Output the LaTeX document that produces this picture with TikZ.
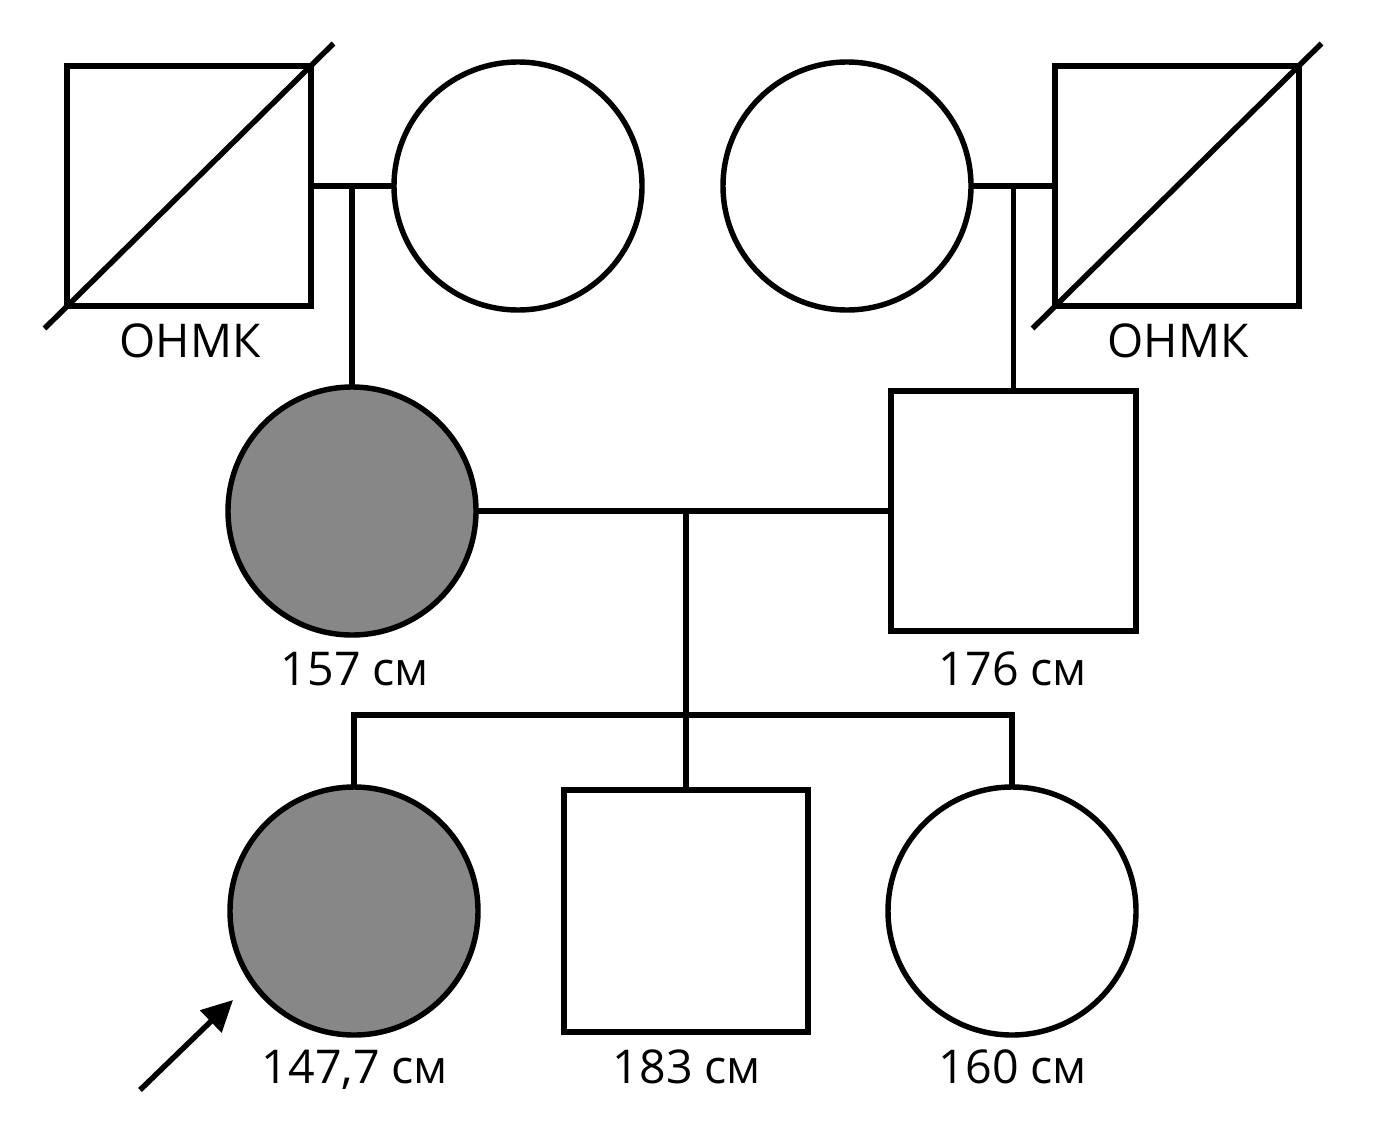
\documentclass[tikz,border=0pt]{standalone}
\usepackage{fontspec}
\setmainfont{Open Sans}
\usetikzlibrary{calc,arrows.meta}
\definecolor{affgray}{RGB}{135,135,135}

\tikzset{
	male/.style={draw, line width=3.1pt, minimum width=4.88cm, minimum height=4.8cm, inner sep=0pt, outer sep=0pt},
	female/.style={draw, circle, line width=3.1pt, minimum size=4.96cm, inner sep=0pt, outer sep=0pt},
	affected/.style={fill=affgray},
	tag/.style={font=\fontsize{26.5}{32}\selectfont, inner sep=0pt, anchor=base},
	link/.style={line width=3.1pt}
}

\begin{document}
\begin{tikzpicture}
					\useasboundingbox (0,0) rectangle (27.6,-22.46);

					% Generation I
					\node[male] (I1) at (3.78,-3.72) {};
					\node[female] (I2) at (10.36,-3.72) {};
					\node[female] (I3) at (16.94,-3.72) {};
					\node[male] (I4) at (23.54,-3.72) {};

					% deceased
					\draw[link] ($(I1.south west)+(-0.45,-0.45)$) -- ($(I1.north east)+(0.45,0.45)$);
					\draw[link] ($(I4.south west)+(-0.45,-0.45)$) -- ($(I4.north east)+(0.45,0.45)$);

					\node[tag] (t1) at (3.8,-7.14) {ОНМК};
					\node[tag] (t4) at (23.56,-7.14) {ОНМК};

					% Generation II
					\node[female, affected] (II1) at (7.04,-10.22) {};
					\node[male, minimum width=4.9cm] (II2) at (20.27,-10.22) {};
					\node[tag] (t5) at (7.1,-13.7) {157 см};
					\node[tag] (t6) at (20.26,-13.7) {176 см};

					\draw[link] (I1.east) -- (I2.west);
					\draw[link] (I3.east) -- (I4.west);
					\draw[link] (II1.north) -- (II1.north |- I1.east);
					\draw[link] (II2.north) -- (II2.north |- I4.west);

					% Generation III
					\node[female, affected] (III1) at (7.08,-18.22) {};
					\node[male, minimum height=4.84cm] (III2) at (13.72,-18.22) {};
					\node[female] (III3) at (20.24,-18.22) {};
					\node[tag] (t7) at (7.1,-21.66) {147,7 см};
					\node[tag] (t8) at (13.74,-21.66) {183 см};
					\node[tag] (t9) at (20.26,-21.66) {160 см};

					\draw[link] (II1.east) -- (II2.west);
					\coordinate (m) at (III2.north |- II1.east);
					\coordinate (s) at (m |- 0,-14.3);
					\draw[link] (m) -- (III2.north);
					\draw[link] (III1.north) |- (s) -| (III3.north);

					% proband
					\coordinate (pt) at (2.8,-21.8);
					\coordinate (pa) at (4.66,-20.0);
					\draw[link, -{Triangle[length=0.62cm, width=0.6cm]}] (pt) -- (pa);
\end{tikzpicture}
\end{document}
